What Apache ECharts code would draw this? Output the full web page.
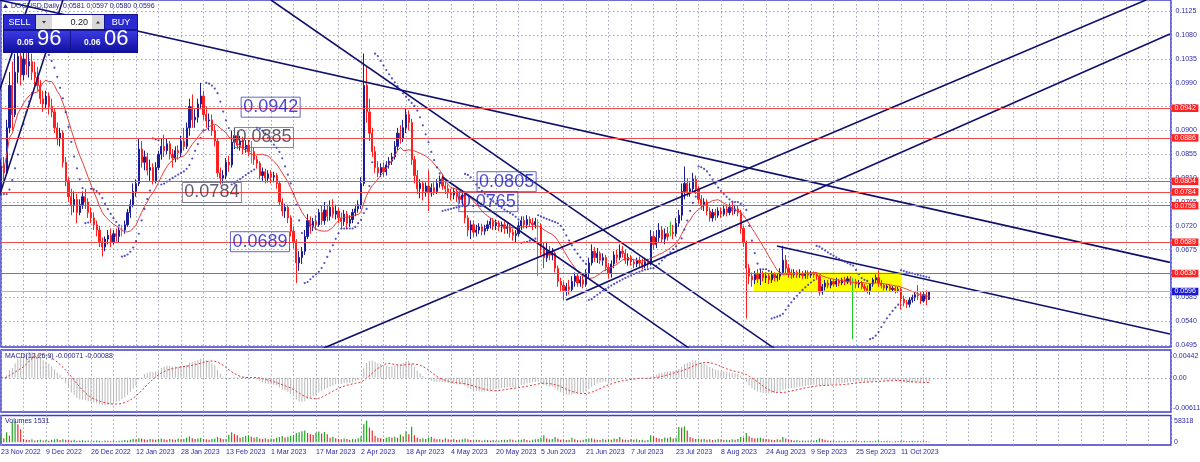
<!DOCTYPE html>
<html><head><meta charset="utf-8">
<script src="https://cdn.jsdelivr.net/npm/echarts@6/dist/echarts.min.js"></script>
<style>html,body{margin:0;padding:0;background:#fff}#c{width:1200px;height:462px}</style>
</head><body><div id="c"></div>
<script>
// ---------------- DATA ----------------
const symbolName = 'DOGUSD,Daily';
// date labels, one every 16 bars starting at bar 0
const dateLabels = ['23 Nov 2022','9 Dec 2022','26 Dec 2022','12 Jan 2023','28 Jan 2023','13 Feb 2023','1 Mar 2023','17 Mar 2023','2 Apr 2023','18 Apr 2023','4 May 2023','20 May 2023','5 Jun 2023','21 Jun 2023','7 Jul 2023','23 Jul 2023','8 Aug 2023','24 Aug 2023','9 Sep 2023','25 Sep 2023','11 Oct 2023'];
// daily candles [open, close, low, high]
const candles = [
[.0790,.0835,.0780,.0845],[.0835,.0820,.0805,.0850],[.0820,.0905,.0815,.0920],[.0905,.0985,.0895,.1010],[.0985,.0930,.0900,.1030],
[.0930,.1010,.0925,.1045],[.1010,.1040,.0990,.1075],[.1040,.1005,.0985,.1065],[.1005,.1035,.0995,.1060],[.1035,.1025,.1005,.1070],
[.1022,.1030,.1000,.1050],[.1030,.1010,.0995,.1045],[.1010,.1000,.0985,.1030],[.1000,.0985,.0975,.1020],[.0985,.0960,.0950,.0995],
[.0960,.0950,.0935,.0975],[.0950,.0965,.0940,.0975],[.0965,.0945,.0930,.0972],[.0945,.0935,.0925,.0960],[.0935,.0905,.0895,.0942],
[.0905,.0885,.0872,.0915],[.0885,.0895,.0870,.0905],[.0895,.0840,.0830,.0900],[.0840,.0805,.0795,.0850],[.0805,.0775,.0765,.0812],
[.0775,.0760,.0740,.0790],[.0760,.0770,.0745,.0785],[.0770,.0745,.0725,.0780],[.0745,.0760,.0740,.0770],[.0760,.0775,.0752,.0785],
[.0775,.0765,.0752,.0790],[.0765,.0745,.0735,.0772],[.0745,.0735,.0725,.0755],[.0735,.0722,.0712,.0745],[.0722,.0712,.0700,.0730],
[.0712,.0690,.0680,.0720],[.0690,.0680,.0662,.0698],[.0680,.0695,.0672,.0700],[.0695,.0702,.0685,.0712],[.0702,.0690,.0680,.0715],
[.0690,.0705,.0685,.0712],[.0705,.0700,.0690,.0715],[.0700,.0712,.0688,.0718],[.0712,.0712,.0700,.0722],[.0712,.0722,.0705,.0730],
[.0722,.0745,.0718,.0752],[.0745,.0760,.0735,.0770],[.0760,.0785,.0755,.0800],[.0785,.0800,.0775,.0808],[.0800,.0865,.0795,.0885],
[.0865,.0840,.0830,.0880],[.0840,.0850,.0825,.0862],[.0850,.0825,.0815,.0858],[.0825,.0830,.0805,.0845],[.0830,.0805,.0798,.0838],
[.0805,.0830,.0800,.0840],[.0830,.0855,.0825,.0862],[.0855,.0870,.0845,.0885],[.0870,.0862,.0850,.0892],[.0862,.0875,.0855,.0885],
[.0875,.0855,.0845,.0880],[.0855,.0848,.0830,.0865],[.0848,.0862,.0840,.0870],[.0862,.0858,.0845,.0872],[.0858,.0880,.0850,.0890],
[.0880,.0870,.0862,.0905],[.0870,.0905,.0865,.0915],[.0905,.0945,.0890,.0960],[.0945,.0920,.0905,.0968],[.0920,.0925,.0905,.0940],
[.0925,.0950,.0915,.0960],[.0950,.0965,.0940,.0990],[.0965,.0930,.0920,.0975],[.0930,.0918,.0905,.0945],[.0918,.0920,.0900,.0932],
[.0920,.0900,.0890,.0930],[.0900,.0880,.0870,.0910],[.0880,.0820,.0812,.0885],[.0820,.0810,.0798,.0830],[.0810,.0815,.0800,.0825],
[.0815,.0840,.0808,.0848],[.0840,.0835,.0822,.0852],[.0835,.0878,.0830,.0900],[.0878,.0890,.0865,.0905],[.0890,.0872,.0865,.0898],
[.0872,.0880,.0862,.0890],[.0880,.0865,.0855,.0888],[.0865,.0872,.0858,.0882],[.0872,.0860,.0852,.0880],[.0860,.0860,.0838,.0880],
[.0860,.0845,.0835,.0868],[.0845,.0838,.0828,.0852],[.0838,.0815,.0808,.0842],[.0815,.0822,.0805,.0830],[.0822,.0810,.0800,.0828],
[.0810,.0818,.0802,.0825],[.0818,.0812,.0800,.0825],[.0812,.0815,.0802,.0822],[.0815,.0800,.0790,.0820],[.0800,.0765,.0758,.0805],
[.0765,.0748,.0738,.0772],[.0748,.0755,.0735,.0762],[.0755,.0735,.0725,.0760],[.0735,.0710,.0700,.0740],[.0710,.0690,.0678,.0718],
[.0690,.0650,.0612,.0695],[.0650,.0660,.0635,.0672],[.0660,.0672,.0648,.0680],[.0672,.0700,.0665,.0712],[.0700,.0730,.0695,.0742],
[.0730,.0718,.0705,.0738],[.0718,.0728,.0710,.0735],[.0728,.0722,.0712,.0740],[.0722,.0745,.0718,.0752],[.0745,.0730,.0722,.0758],
[.0730,.0750,.0722,.0765],[.0750,.0738,.0728,.0760],[.0738,.0755,.0730,.0768],[.0755,.0742,.0735,.0770],[.0742,.0748,.0732,.0760],
[.0748,.0735,.0725,.0755],[.0735,.0728,.0715,.0745],[.0728,.0742,.0720,.0750],[.0742,.0725,.0715,.0748],[.0725,.0732,.0718,.0740],
[.0732,.0745,.0725,.0752],[.0745,.0752,.0738,.0760],[.0752,.0760,.0745,.0768],[.0760,.0800,.0752,.0812],[.0800,.0985,.0795,.1045],
[.0985,.0935,.0915,.1020],[.0935,.0895,.0880,.0960],[.0895,.0860,.0850,.0905],[.0860,.0830,.0820,.0870],[.0830,.0820,.0812,.0842],
[.0820,.0830,.0812,.0838],[.0830,.0822,.0812,.0840],[.0822,.0835,.0815,.0842],[.0835,.0842,.0828,.0850],[.0842,.0850,.0835,.0858],
[.0850,.0870,.0845,.0880],[.0870,.0895,.0862,.0905],[.0895,.0885,.0875,.0910],[.0885,.0905,.0878,.0920],[.0905,.0930,.0895,.0942],
[.0930,.0915,.0900,.0938],[.0915,.0845,.0835,.0922],[.0845,.0815,.0800,.0852],[.0815,.0790,.0780,.0825],[.0790,.0800,.0772,.0808],
[.0800,.0785,.0768,.0805],[.0785,.0795,.0775,.0802],[.0795,.0782,.0748,.0825],[.0782,.0792,.0775,.0800],[.0792,.0785,.0778,.0802],
[.0785,.0800,.0780,.0808],[.0800,.0808,.0792,.0815],[.0808,.0795,.0788,.0818],[.0795,.0790,.0780,.0805],[.0790,.0782,.0772,.0798],
[.0782,.0778,.0768,.0790],[.0778,.0785,.0770,.0792],[.0785,.0775,.0765,.0790],[.0775,.0770,.0762,.0782],[.0770,.0778,.0760,.0785],
[.0778,.0735,.0725,.0782],[.0735,.0712,.0700,.0740],[.0712,.0722,.0695,.0730],[.0722,.0708,.0698,.0730],[.0708,.0712,.0700,.0722],
[.0712,.0718,.0705,.0725],[.0718,.0710,.0702,.0724],[.0710,.0715,.0703,.0722],[.0715,.0722,.0710,.0730],[.0722,.0728,.0715,.0735],
[.0728,.0720,.0712,.0735],[.0720,.0725,.0712,.0732],[.0725,.0718,.0710,.0730],[.0718,.0722,.0708,.0728],[.0722,.0715,.0705,.0728],
[.0715,.0718,.0705,.0725],[.0718,.0708,.0698,.0722],[.0708,.0702,.0692,.0715],[.0702,.0705,.0688,.0712],[.0705,.0720,.0700,.0728],
[.0720,.0730,.0712,.0738],[.0730,.0722,.0715,.0738],[.0722,.0732,.0715,.0740],[.0732,.0725,.0718,.0738],[.0725,.0722,.0712,.0735],
[.0722,.0728,.0715,.0735],[.0726,.0726,.0625,.0732],[.0720,.0680,.0665,.0725],[.0680,.0660,.0640,.0688],[.0660,.0672,.0652,.0690],
[.0672,.0665,.0655,.0682],[.0665,.0668,.0655,.0678],[.0668,.0640,.0632,.0672],[.0640,.0615,.0605,.0645],[.0615,.0608,.0595,.0622],
[.0608,.0598,.0580,.0615],[.0598,.0605,.0588,.0612],[.0605,.0600,.0590,.0618],[.0600,.0615,.0595,.0625],[.0615,.0625,.0605,.0632],
[.0625,.0612,.0605,.0630],[.0612,.0618,.0605,.0625],[.0618,.0610,.0602,.0628],[.0610,.0630,.0605,.0638],[.0630,.0650,.0622,.0660],
[.0650,.0672,.0645,.0685],[.0672,.0660,.0652,.0680],[.0660,.0668,.0650,.0678],[.0668,.0655,.0648,.0672],[.0655,.0660,.0645,.0668],
[.0660,.0642,.0635,.0665],[.0642,.0630,.0620,.0650],[.0630,.0648,.0622,.0655],[.0648,.0665,.0640,.0672],[.0665,.0660,.0650,.0675],
[.0660,.0672,.0655,.0685],[.0672,.0668,.0660,.0682],[.0668,.0655,.0648,.0675],[.0655,.0660,.0645,.0668],[.0660,.0652,.0645,.0665],
[.0652,.0648,.0640,.0658],[.0648,.0655,.0642,.0660],[.0655,.0650,.0642,.0662],[.0650,.0645,.0638,.0658],[.0645,.0652,.0640,.0660],
[.0652,.0648,.0640,.0658],[.0648,.0700,.0645,.0712],[.0700,.0685,.0675,.0710],[.0685,.0698,.0678,.0712],[.0698,.0712,.0690,.0725],
[.0712,.0695,.0688,.0720],[.0695,.0705,.0685,.0715],[.0705,.0700,.0692,.0718],[.0708,.0708,.0700,.0728],[.0708,.0705,.0695,.0722],
[.0705,.0725,.0700,.0735],[.0725,.0740,.0718,.0750],[.0740,.0785,.0730,.0800],[.0785,.0800,.0770,.0832],[.0800,.0785,.0775,.0810],
[.0785,.0790,.0775,.0802],[.0790,.0808,.0782,.0820],[.0808,.0790,.0780,.0815],[.0790,.0770,.0762,.0795],[.0770,.0760,.0750,.0778],
[.0760,.0765,.0748,.0772],[.0765,.0748,.0740,.0770],[.0748,.0735,.0728,.0755],[.0735,.0745,.0728,.0752],[.0745,.0740,.0730,.0752],
[.0740,.0748,.0735,.0755],[.0748,.0742,.0735,.0755],[.0742,.0752,.0738,.0760],[.0752,.0745,.0738,.0758],[.0745,.0755,.0740,.0762],
[.0755,.0748,.0740,.0765],[.0748,.0752,.0742,.0760],[.0752,.0745,.0738,.0758],[.0745,.0715,.0705,.0750],[.0715,.0688,.0680,.0720],
[.0688,.0640,.0545,.0692],[.0640,.0625,.0610,.0648],[.0625,.0618,.0605,.0632],[.0618,.0628,.0610,.0635],[.0628,.0620,.0612,.0638],
[.0620,.0630,.0608,.0638],[.0630,.0622,.0615,.0635],[.0622,.0625,.0612,.0632],[.0625,.0618,.0610,.0630],[.0618,.0628,.0612,.0635],
[.0628,.0622,.0615,.0632],[.0622,.0625,.0615,.0630],[.0625,.0632,.0618,.0640],[.0632,.0655,.0628,.0682],[.0655,.0640,.0630,.0665],
[.0640,.0632,.0622,.0648],[.0632,.0628,.0620,.0638],[.0628,.0632,.0622,.0638],[.0632,.0628,.0622,.0636],[.0628,.0630,.0622,.0638],
[.0630,.0626,.0620,.0635],[.0626,.0630,.0620,.0636],[.0630,.0627,.0620,.0636],[.0627,.0630,.0622,.0635],[.0630,.0628,.0622,.0634],
[.0628,.0625,.0618,.0632],[.0625,.0595,.0588,.0628],[.0595,.0605,.0590,.0610],[.0605,.0612,.0598,.0618],[.0612,.0608,.0602,.0618],
[.0608,.0615,.0602,.0620],[.0615,.0610,.0605,.0620],[.0610,.0616,.0605,.0622],[.0616,.0612,.0606,.0620],[.0612,.0618,.0608,.0622],
[.0618,.0614,.0608,.0624],[.0614,.0620,.0610,.0625],[.0620,.0615,.0608,.0625],[.0615,.0615,.0506,.0622],[.0615,.0610,.0602,.0620],
[.0610,.0612,.0603,.0618],[.0612,.0605,.0600,.0616],[.0605,.0602,.0596,.0610],[.0602,.0598,.0592,.0608],[.0598,.0610,.0590,.0612],
[.0610,.0618,.0605,.0622],[.0618,.0622,.0612,.0628],[.0622,.0612,.0605,.0636],[.0612,.0608,.0602,.0618],[.0608,.0603,.0598,.0612],
[.0603,.0606,.0598,.0610],[.0606,.0600,.0595,.0610],[.0600,.0602,.0596,.0606],[.0602,.0598,.0592,.0606],[.0598,.0600,.0594,.0605],
[.0600,.0582,.0562,.0603],[.0582,.0575,.0568,.0588],[.0575,.0572,.0565,.0580],[.0572,.0580,.0566,.0585],[.0580,.0585,.0575,.0590],
[.0585,.0590,.0578,.0595],[.0590,.0588,.0580,.0608],[.0588,.0578,.0572,.0595],[.0578,.0590,.0575,.0596],[.0590,.0582,.0570,.0598],
[.0581,.0596,.0580,.0597]
];
const volumes = [
19000,11000,27000,18000,54000,56000,49000,35000,9000,7000,
6000,8000,5000,6000,7000,5000,6000,4000,7000,8000,
9000,6000,8000,7000,6000,5000,7000,4000,5000,6000,
4000,5000,3000,4000,5000,4000,3000,5000,4000,3000,
4000,3000,4000,5000,6000,5000,7000,9000,8000,11000,
10000,8000,7000,9000,8000,7000,9000,10000,8000,7000,
9000,8000,7000,10000,8000,9000,12000,16000,11000,9000,
10000,12000,9000,8000,7000,9000,10000,14000,11000,8000,
9000,20000,27000,22000,19000,12000,14000,17000,19000,15000,
12000,14000,10000,9000,11000,8000,10000,9000,12000,14000,
17000,13000,15000,18000,20000,25000,27000,30000,32000,25000,
22000,20000,26000,29000,24000,28000,22000,12000,15000,11000,
9000,8000,10000,9000,7000,9000,8000,11000,16000,49000,
58318,40000,32000,18000,12000,11000,9000,12000,14000,13000,
15000,12000,21000,16000,30000,22000,42000,19000,12000,9000,
11000,9000,13000,15000,10000,8000,9000,7000,11000,8000,
7000,9000,6000,7000,8000,10000,8000,6000,5000,7000,
6000,5000,7000,6000,5000,6000,4000,5000,6000,7000,
6000,8000,7000,5000,6000,7000,9000,6000,5000,7000,
8000,9000,12000,19000,10000,8000,9000,14000,10000,7000,
8000,6000,7000,12000,8000,6000,5000,7000,9000,10000,
11000,8000,7000,6000,9000,7000,8000,7000,10000,9000,
14000,8000,7000,6000,9000,7000,8000,6000,7000,5000,
6000,19000,17000,12000,10000,9000,13000,11000,14000,10000,
12000,41000,40000,43000,32000,14000,11000,9000,10000,8000,
9000,7000,8000,6000,7000,9000,8000,6000,7000,6000,
8000,7000,9000,14000,13000,25000,16000,12000,10000,11000,
12000,10000,9000,8000,7000,6000,8000,7000,14000,10000,
8000,6000,5000,6000,4000,5000,4000,5000,4000,5000,
6000,11000,9000,7000,5000,4000,4000,3000,4000,3000,
4000,3000,3000,5000,4000,3000,3000,4000,3000,4000,
3000,4000,5000,3000,3000,4000,3000,2000,3000,3000,
5000,4000,3000,3000,4000,3000,4000,3000,3000,3000,1531
];
// horizontal support/resistance levels
const levels = [0.0942, 0.0886, 0.0804, 0.0784, 0.0758, 0.0689, 0.0630];
const bidPrice = 0.0596;
// trend lines [[bar, price], [bar, price]]
const trendlines = [
  [[96.0, 0.11463], [274.8, 0.04893]],
  [[-0.7, 0.11463], [415.6, 0.06510]],
  [[114.8, 0.04893], [407.1, 0.11463]],
  [[200.9, 0.05800], [415.6, 0.10821]],
  [[156.8, 0.08122], [244.6, 0.04893]],
  [[275.9, 0.06819], [415.6, 0.05158]],
  [[-0.7, 0.07744], [22.0, 0.11463]],
  [[-0.7, 0.09727], [10.3, 0.11463]]
];
// text labels [text, bar, price, style]
const annotations = [
  ['0.0942', 85.2, 0.09440, 'blue'],
  ['0.0885', 82.8, 0.08868, 'gray'],
  ['0.0784', 64.3, 0.07829, 'gray'],
  ['0.0689', 81.4, 0.06900, 'blue'],
  ['0.0805', 169.1, 0.08033, 'blue'],
  ['0.0765', 162.6, 0.07656, 'blue']
];
// highlighted consolidation zone [[bar, price], [bar, price]]
const zone = [[267.7, 0.0632], [320.4, 0.0595]];
const macdTitle = 'MACD(12,26,9) -0.00071 -0.00088';

// ---------------- STYLE ----------------
const NAVY = '#22228a', AXT = '#2a2aa8', BULL = '#1c1c96', BEAR = '#ff1f1f', DOJI = '#22cc22';
const GRIDC = '#a2a2b2', BORDER = '#3c3cc6', LINE = '#0f0f6c';
const FONT = 'Liberation Sans', FS = 7;
const dotted = {type: [1.5, 2.5], color: GRIDC, width: 1};

// ---------------- INDICATORS ----------------
const n = candles.length;
const closes = candles.map(c => c[1]);
const maPeriod = 14;
const maData = closes.map((_, i) => {
  const s = Math.max(0, i - maPeriod + 1); let sum = 0;
  for (let k = s; k <= i; k++) sum += closes[k];
  return [i, sum / (i - s + 1)];
});
// Parabolic SAR (0.02, 0.2)
const sarData = (() => {
  const hi = candles.map(c => c[3]), lo = candles.map(c => c[2]);
  const out = [[0, lo[0]]]; let up = true, af = 0.02, ep = hi[0], sar = lo[0];
  for (let i = 1; i < n; i++) {
    sar = sar + af * (ep - sar);
    if (up) {
      sar = Math.min(sar, lo[i - 1], lo[Math.max(0, i - 2)]);
      if (lo[i] < sar) { up = false; sar = ep; ep = lo[i]; af = 0.02; }
      else if (hi[i] > ep) { ep = hi[i]; af = Math.min(af + 0.02, 0.2); }
    } else {
      sar = Math.max(sar, hi[i - 1], hi[Math.max(0, i - 2)]);
      if (hi[i] > sar) { up = true; sar = ep; ep = hi[i]; af = 0.02; }
      else if (lo[i] < ep) { ep = lo[i]; af = Math.min(af + 0.02, 0.2); }
    }
    out.push([i, sar]);
  }
  return out;
})();
function ema(arr, p) { const a = 2 / (p + 1); let e = arr[0]; return arr.map((v, i) => (e = i === 0 ? v : e + a * (v - e))); }
const e12 = ema(closes, 12), e26 = ema(closes, 26);
const macd = closes.map((_, i) => e12[i] - e26[i]);
const signal = macd.map((_, i) => { const s = Math.max(0, i - 8); let sum = 0; for (let k = s; k <= i; k++) sum += macd[k]; return sum / (i - s + 1); });

const candleData = candles.map((c, i) => {
  const v = [i, c[0], c[1], c[2], c[3]];
  if (c[0] === c[1]) return {value: v, itemStyle: {color: DOJI, color0: DOJI, borderColor: DOJI, borderColor0: DOJI, borderColorDoji: DOJI}};
  return v;
});
const volData = volumes.map((v, i) => ({value: [i, v], itemStyle: {color: (i > 0 && v > volumes[i - 1]) || i === 0 ? '#1fa51f' : '#e53030'}}));
const last = candles[n - 1];
const headerText = symbolName + '  ' + [last[0], last[3], last[2], last[1]].map(v => v.toFixed(4)).join(' ');

// ---------------- LAYOUT ----------------
const L = 1, R = 29;
const gridBase = {left: L, right: R, outerBoundsMode: 'none', containLabel: false};
const grids = [
  Object.assign({top: 0, height: 347, show: true, borderColor: BORDER, borderWidth: 1.5}, gridBase),
  Object.assign({top: 11.3, height: 333.7, show: false}, gridBase),
  Object.assign({top: 350, height: 62, show: true, borderColor: BORDER, borderWidth: 1.5}, gridBase),
  Object.assign({top: 415.5, height: 29.5, show: true, borderColor: BORDER, borderWidth: 1.5}, gridBase)
];
function xAx(gi, labels, split) {
  return {
    type: 'value', gridIndex: gi, min: 0, max: 416, interval: 8, show: gi !== 1,
    axisLine: {show: false}, axisTick: {show: false},
    splitLine: {show: split, lineStyle: dotted},
    axisLabel: labels ? {
      show: true, color: AXT, fontFamily: FONT, fontSize: FS, margin: 3.5, align: 'left', showMinLabel: true, showMaxLabel: false,
      formatter: v => (v % 16 === 0 && v / 16 < dateLabels.length) ? dateLabels[v / 16] : ''
    } : {show: false}
  };
}
const yLabel = {color: AXT, fontFamily: FONT, fontSize: FS, margin: 4.5};
const tag = (v, bg) => ({show: true, position: 'end', distance: 1, formatter: v.toFixed(4), color: '#fff', backgroundColor: bg,
  padding: [0, 2.5, 0, 2.5], lineHeight: 7.5, fontFamily: FONT, fontSize: FS});

const series = [];
series.push({
  type: 'candlestick', xAxisIndex: 0, yAxisIndex: 0, z: 3, barWidth: 1.7,
  encode: {x: 0, y: [1, 2, 3, 4]},
  itemStyle: {color: BULL, color0: BEAR, borderColor: BULL, borderColor0: BEAR, borderColorDoji: DOJI, borderWidth: 1},
  data: candleData, silent: true,
  markArea: {silent: true, itemStyle: {color: '#ffff00', opacity: 1}, data: [[{coord: zone[0]}, {coord: zone[1]}]]}
});
series.push({
  type: 'line', xAxisIndex: 0, yAxisIndex: 0, z: 4, data: maData, showSymbol: false, silent: true,
  lineStyle: {color: '#e8403a', width: 1},
  markLine: {
    silent: true, symbol: ['none', 'none'], z: 5, animation: false, precision: 6,
    data: levels.map(v => ({yAxis: v, lineStyle: {color: '#f04a4a', width: 1, type: 'solid'}, label: tag(v, '#ff2424')}))
      .concat([{yAxis: bidPrice, lineStyle: {color: '#b4b4b4', width: 1, type: 'solid'}, label: tag(bidPrice, '#1a1ad0')}])
  }
});
series.push({type: 'scatter', xAxisIndex: 0, yAxisIndex: 0, z: 4, symbol: 'circle', symbolSize: 2.2, silent: true,
  itemStyle: {color: '#2424b4'}, data: sarData});
trendlines.forEach(t => series.push({type: 'line', xAxisIndex: 0, yAxisIndex: 0, z: 4, data: t, showSymbol: false, symbol: 'none', silent: true,
  lineStyle: {color: LINE, width: 1.6}}));
series.push({
  type: 'scatter', xAxisIndex: 0, yAxisIndex: 0, z: 6, symbol: 'rect', symbolSize: 1, silent: true,
  itemStyle: {color: 'rgba(0,0,0,0)'},
  data: annotations.map(a => ({value: [a[1], a[2]], label: {
    show: true, position: 'right', distance: 0, formatter: a[0], fontFamily: FONT, fontSize: 18, lineHeight: 18,
    padding: [1, 2, 1, 2], color: a[3] === 'blue' ? '#1a1ac4' : '#34344a', borderColor: a[3] === 'blue' ? '#4040b4' : '#66667a', borderWidth: 1
  }}))
});
series.push({type: 'bar', xAxisIndex: 2, yAxisIndex: 2, barWidth: 1, silent: true, itemStyle: {color: '#b8b8b8'},
  data: macd.map((v, i) => [i, v]),
  markLine: {silent: true, symbol: ['none', 'none'], precision: 6, label: {show: false}, lineStyle: {type: [1.5, 2.5], color: '#9c9cac', width: 1}, data: [{yAxis: 0}]}});
series.push({type: 'line', xAxisIndex: 2, yAxisIndex: 2, showSymbol: false, silent: true, z: 4,
  lineStyle: {color: '#e83030', width: 1, type: [2, 2]}, data: signal.map((v, i) => [i, v])});
series.push({type: 'bar', xAxisIndex: 3, yAxisIndex: 3, barWidth: 1.2, silent: true, data: volData});

const option = {
  animation: false,
  backgroundColor: '#ffffff',
  grid: grids,
  xAxis: [xAx(0, false, true), xAx(1, false, false), xAx(2, false, true), xAx(3, true, true)],
  yAxis: [
    {type: 'value', gridIndex: 0, min: 0.049125, max: 0.114633, show: false, splitLine: {show: false}},
    {type: 'value', gridIndex: 1, position: 'right', min: 0.0495, max: 0.1125, interval: 0.0045,
      axisLine: {show: false}, axisTick: {show: false}, splitLine: {show: true, lineStyle: dotted},
      axisLabel: Object.assign({formatter: v => v.toFixed(4)}, yLabel)},
    {type: 'value', gridIndex: 2, position: 'right', min: -0.006851, max: 0.005561,
      axisLine: {show: false}, axisTick: {show: false}, splitLine: {show: false},
      axisLabel: Object.assign({}, yLabel, {margin: 2, customValues: [-0.00611, 0, 0.00442], formatter: v => Math.abs(v) < 1e-9 ? '0.00' : v.toFixed(5)})},
    {type: 'value', gridIndex: 3, position: 'right', min: -7290, max: 72360,
      axisLine: {show: false}, axisTick: {show: false}, splitLine: {show: false},
      axisLabel: Object.assign({}, yLabel, {margin: 3, customValues: [0, 58318], formatter: v => String(Math.round(v))})}
  ],
  series: series,
  graphic: {elements: [
    {type: 'polygon', z: 100, shape: {points: [[3, 8], [8, 8], [5.5, 4]]}, style: {fill: NAVY}},
    {type: 'text', z: 100, x: 11, y: 6, style: {text: headerText, font: FS + 'px "Liberation Sans"', fill: NAVY, verticalAlign: 'middle'}},
    {type: 'text', z: 100, x: 5, y: 356.5, style: {text: macdTitle, font: FS + 'px "Liberation Sans"', fill: NAVY, verticalAlign: 'middle'}},
    {type: 'text', z: 100, x: 5, y: 421, style: {text: 'Volumes ' + volumes[n - 1], font: FS + 'px "Liberation Sans"', fill: NAVY, verticalAlign: 'middle'}},
    // trade panel
    {type: 'rect', z: 100, shape: {x: 3, y: 14, width: 135, height: 39}, style: {fill: '#14148e'}},
    {type: 'rect', z: 100, shape: {x: 4, y: 15, width: 31, height: 14}, style: {fill: '#2a2ad2'}},
    {type: 'text', z: 101, x: 19.5, y: 22.5, style: {text: 'SELL', font: '9px "Liberation Sans"', fill: '#fff', align: 'center', verticalAlign: 'middle'}},
    {type: 'rect', z: 100, shape: {x: 36, y: 15, width: 16, height: 14}, style: {fill: '#d8d8d8'}},
    {type: 'polygon', z: 101, shape: {points: [[42, 21], [46, 21], [44, 23.5]]}, style: {fill: '#333'}},
    {type: 'rect', z: 100, shape: {x: 52, y: 15, width: 40, height: 14}, style: {fill: '#ffffff'}},
    {type: 'text', z: 101, x: 88, y: 22.5, style: {text: '0.20', font: '9px "Liberation Sans"', fill: '#222', align: 'right', verticalAlign: 'middle'}},
    {type: 'rect', z: 100, shape: {x: 92, y: 15, width: 12, height: 14}, style: {fill: '#d8d8d8'}},
    {type: 'polygon', z: 101, shape: {points: [[96, 23.5], [100, 23.5], [98, 21]]}, style: {fill: '#333'}},
    {type: 'rect', z: 100, shape: {x: 105, y: 15, width: 32, height: 14}, style: {fill: '#2a2ad2'}},
    {type: 'text', z: 101, x: 121, y: 22.5, style: {text: 'BUY', font: '9px "Liberation Sans"', fill: '#fff', align: 'center', verticalAlign: 'middle'}},
    {type: 'rect', z: 100, shape: {x: 4, y: 31, width: 66, height: 21}, style: {fill: new echarts.graphic.LinearGradient(0, 0, 0, 1, [{offset: 0, color: '#3a3ae4'}, {offset: 1, color: '#1010a0'}])}},
    {type: 'rect', z: 100, shape: {x: 71, y: 31, width: 66, height: 21}, style: {fill: new echarts.graphic.LinearGradient(0, 0, 0, 1, [{offset: 0, color: '#3a3ae4'}, {offset: 1, color: '#1010a0'}])}},
    {type: 'text', z: 101, x: 17, y: 47.5, style: {text: '0.05', font: 'bold 8.5px "Liberation Sans"', fill: '#fff', verticalAlign: 'bottom'}},
    {type: 'text', z: 101, x: 37, y: 49.5, style: {text: '96', font: '22px "Liberation Sans"', fill: '#fff', verticalAlign: 'bottom'}},
    {type: 'text', z: 101, x: 84, y: 47.5, style: {text: '0.06', font: 'bold 8.5px "Liberation Sans"', fill: '#fff', verticalAlign: 'bottom'}},
    {type: 'text', z: 101, x: 104, y: 49.5, style: {text: '06', font: '22px "Liberation Sans"', fill: '#fff', verticalAlign: 'bottom'}}
  ]}
};
const chart = echarts.init(document.getElementById('c'), null, {renderer: 'canvas'});
chart.setOption(option);
</script>
</body></html>
